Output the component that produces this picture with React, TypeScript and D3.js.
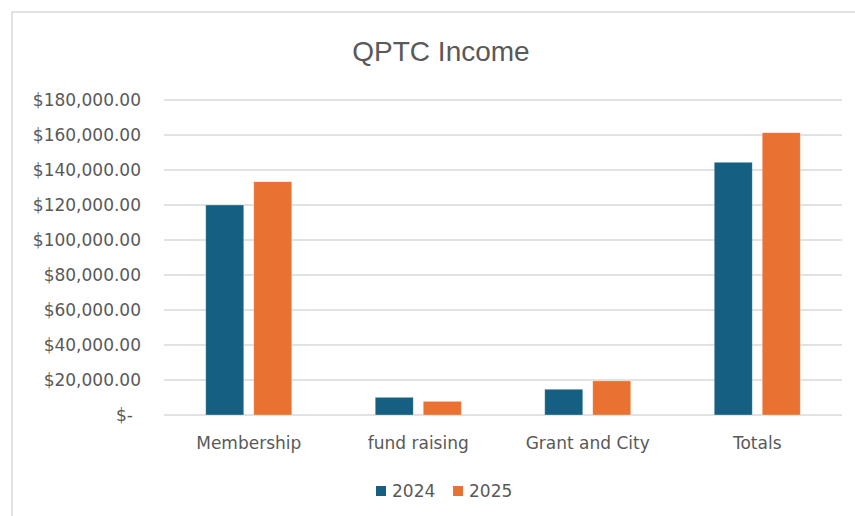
import React from "react";
import * as d3 from "d3";

const categories = ["Membership", "fund raising", "Grant and City", "Totals"];
const seriesNames = ["2024", "2025"];
const values2024 = [120000, 10100, 14700, 144400];
const values2025 = [133300, 7800, 19500, 161300];
const yTicks = [0, 20000, 40000, 60000, 80000, 100000, 120000, 140000, 160000, 180000];
const colors = ["#156082", "#E97132"];

const W = 855;
const H = 516;
const left = 164;
const right = 842;
const top = 100;
const bottom = 415;
const font = "'DejaVu Sans', sans-serif";
const textColor = "#595959";

export default function App() {
  const x0 = d3.scaleBand<string>().domain(categories).range([left, right]).paddingInner(0.4926).paddingOuter(0.2463);
  const x1 = d3.scaleBand<string>().domain(seriesNames).range([0, x0.bandwidth()]).paddingInner(0.2083).paddingOuter(0);
  const y = d3.scaleLinear().domain([0, 180000]).range([bottom, top]);
  const fmt = d3.format(",.2f");
  const series = [values2024, values2025];

  return (
    <svg width={W} height={H} style={{ position: "absolute", left: 0, top: 0, background: "#fff" }}>
      <rect x={12} y={12} width={W + 20} height={H + 20} fill="#fff" stroke="#d9d9d9" strokeWidth={1.5} />
      <text x={441} y={61} textAnchor="middle" fontFamily="'Liberation Sans', Arial, sans-serif" fontSize={28} fill={textColor}>
        QPTC Income
      </text>
      {yTicks.map((t) => (
        <g key={t}>
          <line x1={left} x2={right} y1={y(t)} y2={y(t)} stroke="#d9d9d9" strokeWidth={1.5} />
          <text
            x={t === 0 ? 133 : 141}
            y={y(t)}
            dy="0.35em"
            textAnchor="end"
            fontFamily={font}
            fontSize={17}
            fill={textColor}
          >
            {t === 0 ? "$-" : "$" + fmt(t)}
          </text>
        </g>
      ))}
      {categories.map((c, i) => (
        <g key={c} transform={`translate(${x0(c)},0)`}>
          {seriesNames.map((s, j) => (
            <rect
              key={s}
              x={x1(s)}
              y={y(series[j][i])}
              width={x1.bandwidth()}
              height={y(0) - y(series[j][i])}
              fill={colors[j]}
              stroke="#ffffff"
              strokeOpacity={0.4}
              strokeWidth={0.75}
            />
          ))}
          <text
            x={x0.bandwidth() / 2}
            y={443}
            dy="0.35em"
            textAnchor="middle"
            fontFamily={font}
            fontSize={17}
            fill={textColor}
          >
            {c}
          </text>
        </g>
      ))}
      {seriesNames.map((s, j) => {
        const lx = j === 0 ? 376 : 453;
        return (
          <g key={s}>
            <rect x={lx} y={486} width={10} height={10} fill={colors[j]} />
            <text x={lx + 16} y={491} dy="0.35em" fontFamily={font} fontSize={17} fill={textColor}>
              {s}
            </text>
          </g>
        );
      })}
    </svg>
  );
}
